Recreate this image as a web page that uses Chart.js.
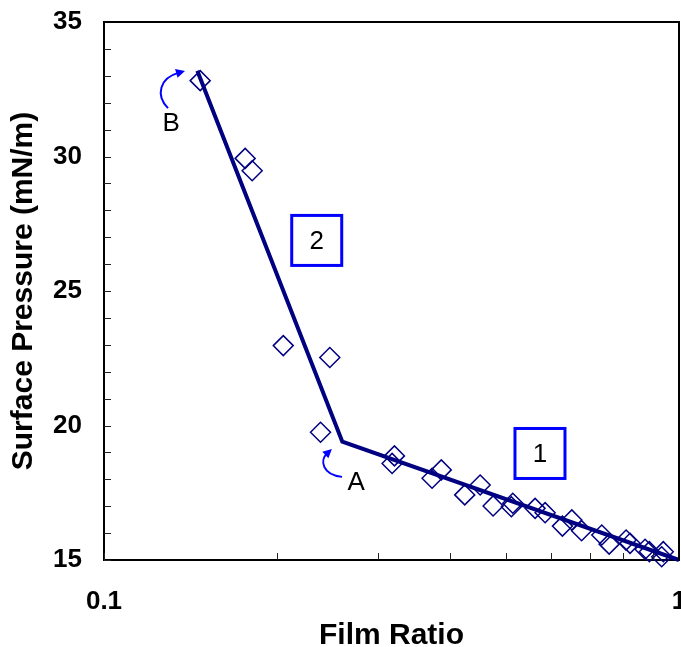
<!DOCTYPE html>
<html>
<head>
<meta charset="utf-8">
<script src="https://cdn.jsdelivr.net/npm/chart.js@4/dist/chart.umd.min.js"></script>
<style>
  html, body { margin: 0; padding: 0; background: #ffffff; }
  canvas { display: block; }
</style>
</head>
<body>
<canvas id="c" width="681" height="647"></canvas>
<script>
// ---- data ----
const filmRatio = [0.147, 0.176, 0.181, 0.205, 0.247, 0.238, 0.320, 0.317, 0.386, 0.372,
                   0.451, 0.424, 0.475, 0.514, 0.511, 0.562, 0.585, 0.651, 0.627, 0.677,
                   0.734, 0.756, 0.809, 0.822, 0.873, 0.888, 0.939, 0.933];
const surfacePressure = [32.82, 29.93, 29.47, 22.97, 22.53, 19.75, 18.87, 18.59, 18.35, 18.04,
                         17.79, 17.42, 17.01, 17.11, 16.98, 16.92, 16.76, 16.49, 16.26, 16.09,
                         15.93, 15.59, 15.74, 15.62, 15.40, 15.31, 15.31, 15.12];
const fitRatio = [0.1453, 0.2597, 1.0];
const fitPressure = [33.19, 19.40, 15.0];

const xTickValues = [0.1, 0.2, 0.3, 0.4, 0.5, 0.6, 0.7, 0.8, 0.9, 1];
const xTickLabels = ['0.1', '1'];
const yTickLabels = [15, 20, 25, 30, 35];

// annotations (in data coordinates)
const pointLabels = [
  { text: 'B', x: 0.1308, y: 31.21 },
  { text: 'A', x: 0.2744, y: 17.86 }
];
const regionBoxes = [
  { text: '2', x: 0.2344, y: 26.88 },
  { text: '1', x: 0.5731, y: 18.96 }
];
const arrowPaths = [
  [[0.1292, 31.80], [0.1227, 32.29], [0.1252, 32.92], [0.1383, 33.18]],
  [[0.2594, 18.09], [0.2393, 18.16], [0.2375, 18.72], [0.2491, 19.13]]
];

const FONT = "'Liberation Sans', Arial, Helvetica, sans-serif";

const scatterPts = filmRatio.map((v, i) => ({ x: v, y: surfacePressure[i] }));
const fitPts = fitRatio.map((v, i) => ({ x: v, y: fitPressure[i] }));

const framePlugin = {
  id: 'frameAndNotes',
  afterDatasetsDraw(chart) {
    const { ctx, chartArea: a, scales: { x, y } } = chart;
    ctx.save();
    // inner tick marks
    ctx.strokeStyle = '#222';
    ctx.lineWidth = 1;
    ctx.beginPath();
    y.ticks.forEach(t => {
      const py = Math.round(y.getPixelForValue(t.value)) + 0.5;
      ctx.moveTo(a.left, py); ctx.lineTo(a.left + 7, py);
    });
    x.ticks.forEach(t => {
      const px = Math.round(x.getPixelForValue(t.value)) + 0.5;
      ctx.moveTo(px, a.bottom); ctx.lineTo(px, a.bottom - 7);
    });
    ctx.stroke();
    // frame top/right
    ctx.strokeStyle = '#000';
    ctx.lineWidth = 2;
    ctx.beginPath();
    ctx.moveTo(a.left, a.top); ctx.lineTo(a.right, a.top); ctx.lineTo(a.right, a.bottom);
    ctx.stroke();

    // labels A / B
    ctx.fillStyle = '#000';
    ctx.font = '26px ' + FONT;
    ctx.textAlign = 'center';
    ctx.textBaseline = 'middle';
    pointLabels.forEach(l => {
      ctx.fillText(l.text, x.getPixelForValue(l.x), y.getPixelForValue(l.y));
    });
    // boxes
    regionBoxes.forEach(b => {
      const cx = x.getPixelForValue(b.x), cy = y.getPixelForValue(b.y);
      ctx.strokeStyle = '#0000ff';
      ctx.lineWidth = 3;
      ctx.strokeRect(cx - 25, cy - 25, 50, 50);
      ctx.fillStyle = '#000';
      ctx.fillText(b.text, cx, cy + 1);
    });
    // arrows
    arrowPaths.forEach(p => {
      const P = p.map(q => [x.getPixelForValue(q[0]), y.getPixelForValue(q[1])]);
      const dx = P[3][0] - P[2][0], dy = P[3][1] - P[2][1];
      const len = Math.hypot(dx, dy), ux = dx / len, uy = dy / len;
      const hl = 9, hw = 4.5;
      const bx = P[3][0] - ux * hl, by = P[3][1] - uy * hl;
      ctx.strokeStyle = '#0000ff';
      ctx.lineWidth = 2;
      ctx.beginPath();
      ctx.moveTo(P[0][0], P[0][1]);
      ctx.bezierCurveTo(P[1][0], P[1][1], P[2][0], P[2][1], bx + ux * 2, by + uy * 2);
      ctx.stroke();
      ctx.fillStyle = '#0000ff';
      ctx.beginPath();
      ctx.moveTo(P[3][0], P[3][1]);
      ctx.lineTo(bx - uy * hw, by + ux * hw);
      ctx.lineTo(bx + uy * hw, by - ux * hw);
      ctx.closePath();
      ctx.fill();
    });
    ctx.restore();
  }
};

new Chart(document.getElementById('c'), {
  type: 'scatter',
  data: {
    datasets: [
      {
        label: 'fit',
        data: fitPts,
        showLine: true,
        borderColor: '#000080',
        borderWidth: 4,
        pointRadius: 0,
        fill: false,
        clip: false,
        order: 0
      },
      {
        label: 'data',
        data: scatterPts,
        pointStyle: 'rectRot',
        pointRadius: 10,
        pointHoverRadius: 10,
        pointBorderWidth: 1.5,
        borderColor: '#000080',
        backgroundColor: 'rgba(0,0,0,0)',
        clip: false,
        order: 1
      }
    ]
  },
  options: {
    responsive: false,
    animation: false,
    devicePixelRatio: 1,
    layout: { autoPadding: false, padding: { top: 22, right: 2, left: 0, bottom: 0 } },
    plugins: { legend: { display: false }, tooltip: { enabled: false } },
    scales: {
      x: {
        type: 'logarithmic',
        min: 0.1,
        max: 1,
        afterBuildTicks(s) { s.ticks = xTickValues.map(v => ({ value: v })); },
        afterFit(s) { s.height = 87; s.paddingLeft = 0; s.paddingRight = 0; },
        grid: { display: false, drawTicks: false },
        border: { display: true, color: '#000', width: 2 },
        ticks: {
          autoSkip: false,
          maxRotation: 0,
          padding: 26,
          color: '#000',
          font: { family: FONT, size: 26, weight: 'bold' },
          callback(v) {
            const s = String(Math.round(v * 10) / 10);
            return xTickLabels.includes(s) ? s : '';
          }
        },
        title: {
          display: true,
          text: 'Film Ratio',
          color: '#000',
          font: { family: FONT, size: 30, weight: 'bold' },
          padding: { top: 0, bottom: -7 }
        }
      },
      y: {
        type: 'linear',
        min: 15,
        max: 35,
        afterFit(s) { s.width = 104; s.paddingTop = 0; s.paddingBottom = 0; },
        grid: { display: false, drawTicks: false },
        border: { display: true, color: '#000', width: 2 },
        ticks: {
          stepSize: 1,
          autoSkip: false,
          padding: 22,
          color: '#000',
          font: { family: FONT, size: 26, weight: 'bold' },
          callback(v) { return yTickLabels.includes(v) ? String(v) : ''; }
        },
        title: {
          display: true,
          text: 'Surface Pressure (mN/m)',
          color: '#000',
          font: { family: FONT, size: 30, weight: 'bold' },
          padding: { top: 6, bottom: 0 }
        }
      }
    }
  },
  plugins: [framePlugin]
});
</script>
</body>
</html>
